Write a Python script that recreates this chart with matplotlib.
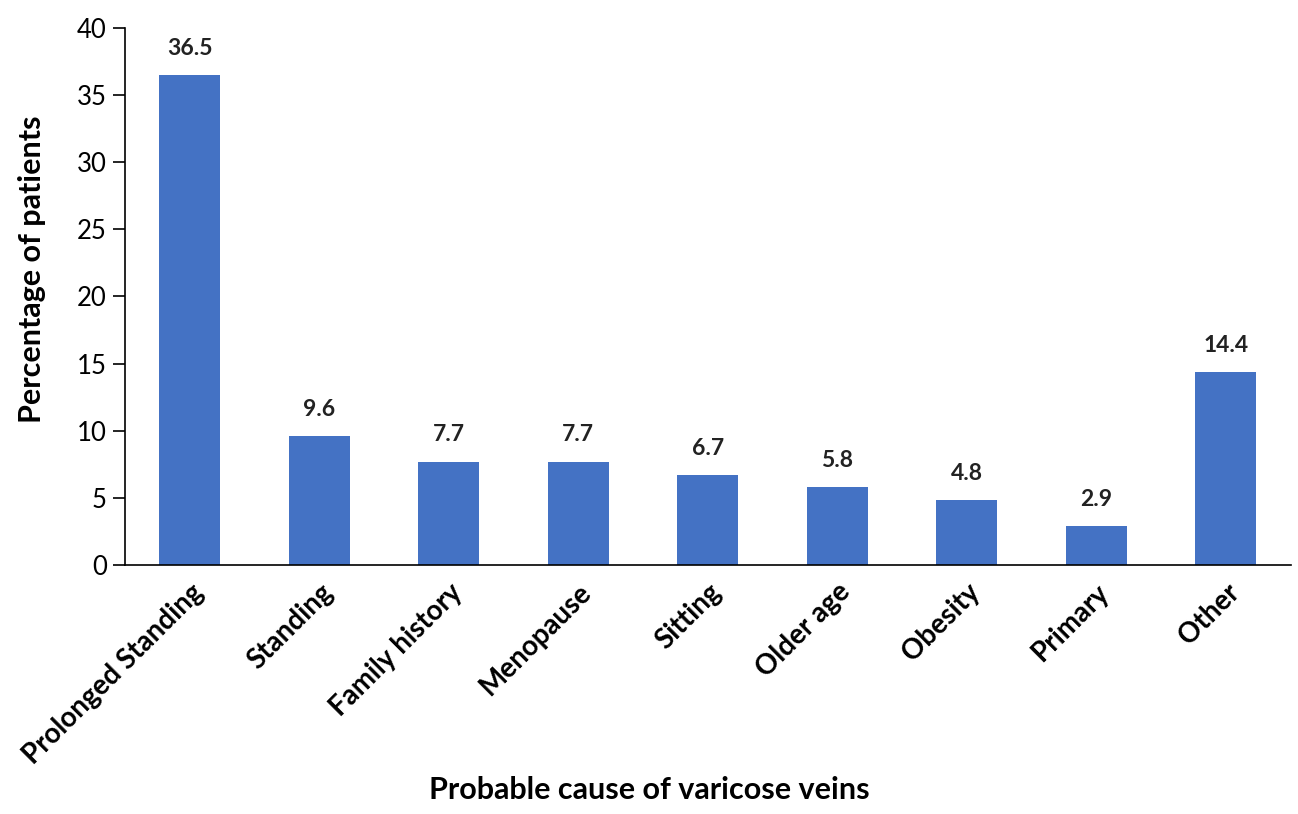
import matplotlib.pyplot as plt

plt.rcParams['font.family'] = ['Lato', 'DejaVu Sans']

causes = ["Prolonged Standing", "Standing", "Family history", "Menopause",
          "Sitting", "Older age", "Obesity", "Primary", "Other"]
percent = [36.5, 9.6, 7.7, 7.7, 6.7, 5.8, 4.8, 2.9, 14.4]

fig = plt.figure(figsize=(12.98, 8.14), dpi=100)
ax = fig.add_axes([0.0963, 0.306, 0.898, 0.6596])

x = range(len(causes))
bars = ax.bar(x, percent, width=0.47, color='#4472C4')

for b, v in zip(bars, percent):
    ax.text(b.get_x() + b.get_width() / 2, v + 1.2, f"{v}", ha='center', va='bottom',
            fontsize=16.5, fontweight='bold', color='#222222')

ax.set_xlim(-0.5, len(causes) - 0.5)
ax.set_ylim(0, 40)
ax.set_yticks(range(0, 41, 5))
ax.tick_params(axis='y', labelsize=18.5, length=9, width=1.2, direction='out', pad=4)
ax.tick_params(axis='x', length=0, pad=10)
ax.set_xticks(list(x))
ax.set_xticklabels(causes, rotation=45, ha='right', rotation_mode='anchor',
                   fontsize=20, fontweight='bold')

for s in ['top', 'right']:
    ax.spines[s].set_visible(False)
ax.spines['left'].set_linewidth(1.2)
ax.spines['bottom'].set_linewidth(1.2)

ax.set_ylabel("Percentage of patients", fontsize=22, fontweight='bold')
ax.yaxis.set_label_coords(-0.068, 0.55)
fig.text(0.5, 0.012, "Probable cause of varicose veins", ha='center', va='bottom',
         fontsize=22, fontweight='bold')

plt.savefig("out.png", dpi=100)
